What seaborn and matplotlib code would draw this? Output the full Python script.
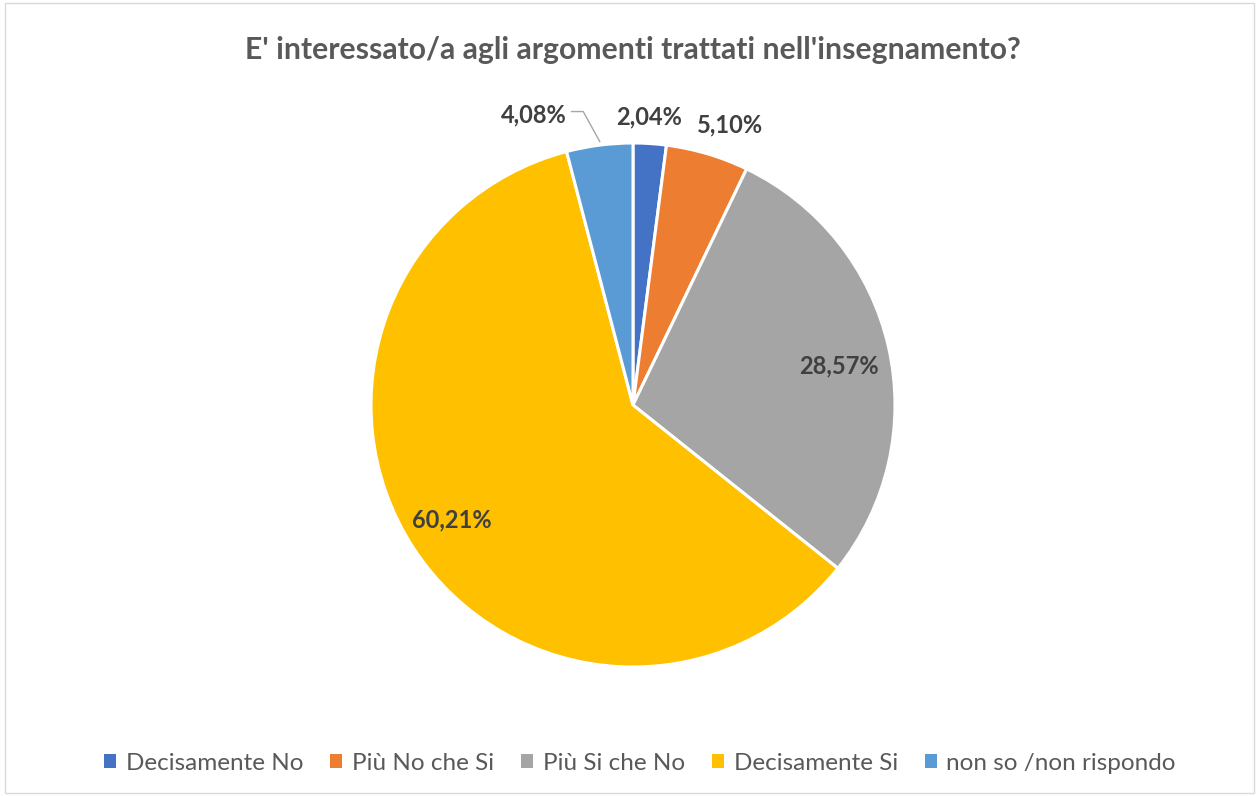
import numpy as np
import matplotlib.pyplot as plt
import seaborn as sns
from matplotlib.patches import Rectangle, Patch

# --- DATA ---
categories = ["Decisamente No", "Più No che Si", "Più Si che No", "Decisamente Si", "non so /non rispondo"]
percentages = [2.04, 5.10, 28.57, 60.21, 4.08]
slice_labels = ["2,04%", "5,10%", "28,57%", "60,21%", "4,08%"]
title = "E' interessato/a agli argomenti trattati nell'insegnamento?"

colors = sns.color_palette(["#4472C4", "#ED7D31", "#A5A5A5", "#FFC000", "#5B9BD5"])

sns.set_theme(style="white")
plt.rcParams['font.family'] = ['Lato', 'DejaVu Sans']

fig = plt.figure(figsize=(12.59, 7.96), dpi=100)
fig.patch.set_facecolor("white")
fig.add_artist(Rectangle((0.004, 0.004), 0.992, 0.992, transform=fig.transFigure,
                         fill=False, edgecolor="#D9D9D9", linewidth=1))

# pie axes: center (633,405), radius 262 px
ax = fig.add_axes([(633 - 262) / 1259, (796 - 667) / 796, 524 / 1259, 524 / 796])
wedges, _ = ax.pie(percentages, colors=colors, startangle=90, counterclock=False,
                   wedgeprops=dict(edgecolor="white", linewidth=2.2))
ax.set_xlim(-1, 1)
ax.set_ylim(-1, 1)
ax.set_aspect("equal")
ax.axis("off")

# label placement (distance from centre, angle shift in degrees)
label_dist = [1.10, 1.13, 0.80, 0.82, 1.17]
angle_shift = [0.5, -2.5, -2.0, -0.7, 11.5]
for w, lab, d, s in zip(wedges, slice_labels, label_dist, angle_shift):
    ang = np.deg2rad((w.theta1 + w.theta2) / 2 + s)
    ax.text(d * np.cos(ang), d * np.sin(ang), lab, ha="center", va="center",
            fontsize=17, fontweight="bold", color="#404040", clip_on=False)

# leader line for the small "non so" slice
w = wedges[4]
mid = np.deg2rad((w.theta1 + w.theta2) / 2)
ax.plot([-0.235, -0.19, 0.99 * np.cos(mid)],
        [1.12, 1.12, 1.005],
        color="#A6A6A6", linewidth=1, clip_on=False)

fig.text(633 / 1259, 1 - 50 / 796, title, ha="center", va="center",
         fontsize=21.7, fontweight="bold", color="#595959")

handles = [Patch(facecolor=c, edgecolor="none") for c in colors]
fig.legend(handles, categories, loc="center", bbox_to_anchor=(640 / 1259, 1 - 763 / 796),
           ncol=5, frameon=False, fontsize=17.5, handlelength=0.5, handleheight=0.5,
           handletextpad=0.4, columnspacing=1.1, labelcolor="#595959")

fig.savefig("out.png", dpi=100)
